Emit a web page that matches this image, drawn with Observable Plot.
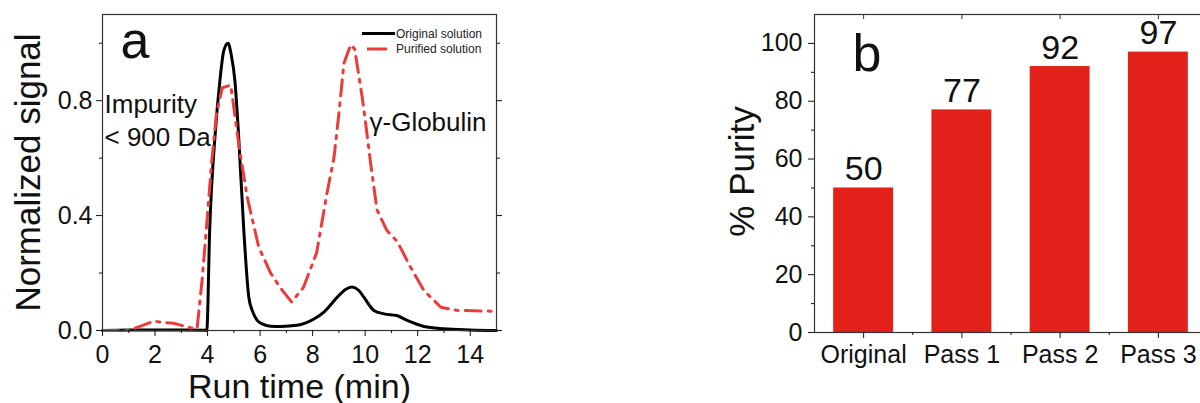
<!DOCTYPE html>
<html>
<head>
<meta charset="utf-8">
<script src="https://cdn.jsdelivr.net/npm/d3@7"></script>
<script src="https://cdn.jsdelivr.net/npm/@observablehq/plot@0.6"></script>
<style>
  html, body { margin: 0; padding: 0; background: #fff; overflow: hidden; }
  #wrap { position: relative; width: 1200px; height: 403px; overflow: hidden; }
  #wrap > svg, #wrap > figure { position: absolute; top: 0; margin: 0; }
</style>
</head>
<body>
<div id="wrap"></div>
<script>
// ---- Panel a data: run time (min) and normalized signal ----
const originalTime   = [0, 1, 2, 3, 3.9, 3.97, 4.08, 4.3, 4.47, 4.62, 4.78, 4.9, 5.04, 5.17, 5.38, 5.57, 5.72, 5.89, 6.1, 6.4, 6.8, 7.4, 8.05, 8.43, 8.94, 9.25, 9.5, 9.75, 9.95, 10.33, 10.72, 11.2, 11.6, 12.24, 13, 14, 15];
const originalSignal = [0, 0.002, 0.002, 0.002, 0.001, 0, 0.348, 0.697, 0.87, 0.975, 1.0, 0.96, 0.87, 0.697, 0.348, 0.116, 0.065, 0.035, 0.022, 0.015, 0.014, 0.018, 0.04, 0.064, 0.116, 0.143, 0.151, 0.14, 0.116, 0.07, 0.058, 0.052, 0.035, 0.014, 0.006, 0.002, 0];

const purifiedTime   = [0, 1.0, 1.95, 2.7, 3.5, 3.6, 3.79, 3.95, 4.15, 4.34, 4.56, 4.88, 4.95, 5.2, 5.51, 5.95, 6.4, 6.8, 7.2, 7.65, 8.15, 8.55, 8.81, 9.0, 9.19, 9.45, 9.6, 9.89, 10.02, 10.21, 10.45, 10.83, 11.22, 11.73, 12.24, 12.88, 13.5, 15];
const purifiedSignal = [0, 0, 0.032, 0.025, 0.006, 0.006, 0.174, 0.348, 0.58, 0.755, 0.845, 0.854, 0.81, 0.64, 0.464, 0.29, 0.2, 0.145, 0.099, 0.15, 0.27, 0.48, 0.6, 0.755, 0.93, 0.995, 0.98, 0.81, 0.72, 0.58, 0.42, 0.348, 0.31, 0.22, 0.139, 0.081, 0.07, 0.067];

const xMajorTicksA = [0, 2, 4, 6, 8, 10, 12, 14];
const xMinorTicksA = [1, 3, 5, 7, 9, 11, 13];
const yMajorTicksA = [0, 0.4, 0.8];
const yMinorTicksA = [0.2, 0.6, 1.0];
const seriesNames  = ["Original solution", "Purified solution"];

// ---- Panel b data ----
const categories = ["Original", "Pass 1", "Pass 2", "Pass 3"];
const purity     = [50, 77, 92, 97];
const yMajorTicksB = [0, 20, 40, 60, 80, 100];
const yMinorTicksB = [10, 30, 50, 70, 90];

const FONT = "'Liberation Sans', Arial, Helvetica, sans-serif";
const RED_LINE = "#ec3b3b";
const RED_BAR = "#e2211a";
const DASH = "16,7,3,7";

const original = originalTime.map((t, i) => ({t, v: originalSignal[i]}));
const purified = purifiedTime.map((t, i) => ({t, v: purifiedSignal[i]}));
const noLabel = () => "";

const plotA = Plot.plot({
  width: 520, height: 403,
  marginLeft: 102, marginRight: 24, marginTop: 14, marginBottom: 73,
  style: {fontFamily: FONT, color: "#111", background: "transparent", overflow: "visible"},
  x: {domain: [0, 15]},
  y: {domain: [0, 1.1]},
  marks: [
    Plot.line(original, {x: "t", y: "v", stroke: "#000", strokeWidth: 3, curve: "monotone-x"}),
    Plot.line(purified, {x: "t", y: "v", stroke: RED_LINE, strokeWidth: 3, strokeDasharray: DASH}),
    Plot.frame({stroke: "#333", strokeWidth: 1.2}),
    Plot.axisX({ticks: xMajorTicksA, tickSize: 6, tickPadding: 9, fontSize: 25, label: null, tickFormat: d3.format("d")}),
    Plot.axisX({ticks: xMinorTicksA, tickSize: 3, tickFormat: noLabel, label: null}),
    Plot.axisY({ticks: yMajorTicksA, tickSize: 6, tickPadding: 4, fontSize: 25, label: null, tickFormat: d3.format(".1f")}),
    Plot.axisY({ticks: yMinorTicksA, tickSize: 3, tickFormat: noLabel, label: null}),
    Plot.axisY({anchor: "right", ticks: yMajorTicksA, tickSize: 5, tickFormat: noLabel, label: null}),
    Plot.axisY({anchor: "right", ticks: yMinorTicksA, tickSize: 3, tickFormat: noLabel, label: null}),
    Plot.text(["Run time (min)"], {frameAnchor: "bottom", textAnchor: "middle", lineAnchor: "bottom", dy: 67, fontSize: 34, fill: "#111"}),
    Plot.text(["Normalized signal"], {frameAnchor: "left", textAnchor: "middle", lineAnchor: "bottom", rotate: -90, dx: -63, fontSize: 35, fill: "#111"}),
    Plot.text(["a"], {frameAnchor: "top-left", textAnchor: "start", lineAnchor: "bottom", dx: 18, dy: 43, fontSize: 52, fill: "#111"}),
    Plot.text(["Impurity"], {frameAnchor: "top-left", textAnchor: "start", lineAnchor: "bottom", dx: 2, dy: 98, fontSize: 26, fill: "#111"}),
    Plot.text(["< 900 Da"], {frameAnchor: "top-left", textAnchor: "start", lineAnchor: "bottom", dx: 2, dy: 131, fontSize: 26, fill: "#111"}),
    Plot.text(["\u03b3-Globulin"], {frameAnchor: "top-left", textAnchor: "start", lineAnchor: "bottom", dx: 267, dy: 116, fontSize: 26, fill: "#111"})
  ]
});

// legend (inside panel a)
{
  const svg = d3.select(plotA);
  const g = svg.append("g").attr("font-family", FONT).attr("font-size", 12).attr("fill", "#222")
    .attr("text-anchor", "start");
  g.append("line").attr("x1", 362).attr("x2", 395).attr("y1", 33.5).attr("y2", 33.5)
    .attr("stroke", "#000").attr("stroke-width", 3);
  g.append("text").attr("x", 396).attr("y", 37.5).attr("text-anchor", "start").text(seriesNames[0]);
  g.append("line").attr("x1", 367).attr("x2", 387).attr("y1", 49).attr("y2", 49)
    .attr("stroke", RED_LINE).attr("stroke-width", 3);
  g.append("text").attr("x", 396).attr("y", 53).attr("text-anchor", "start").text(seriesNames[1]);
}

const table = categories.map((c, i) => ({cat: c, pos: i + 1, value: purity[i]}));
const half = 0.305;

const plotB = Plot.plot({
  width: 520, height: 403,
  marginLeft: 114, marginRight: 13, marginTop: 14, marginBottom: 71,
  style: {fontFamily: FONT, color: "#111", background: "transparent", overflow: "visible"},
  x: {domain: [0.5, 4.5]},
  y: {domain: [0, 110]},
  marks: [
    Plot.rectY(table, {x1: d => d.pos - half, x2: d => d.pos + half, y1: 0, y2: "value", fill: RED_BAR}),
    Plot.text(table, {x: "pos", y: "value", text: d => String(d.value), lineAnchor: "bottom", dy: -8, fontSize: 34, fill: "#111"}),
    Plot.frame({stroke: "#333", strokeWidth: 1.2}),
    Plot.axisX({ticks: table.map(d => d.pos), tickSize: 6, tickPadding: 7, fontSize: 25, label: null, tickFormat: p => categories[p - 1]}),
    Plot.axisX({ticks: table.slice(1).map(d => d.pos - 0.5), tickSize: 3, tickFormat: noLabel, label: null}),
    Plot.tickX(table, {x: "pos", stroke: "#333", insetBottom: 313}),
    Plot.axisY({ticks: yMajorTicksB, tickSize: 6, tickPadding: 6, fontSize: 25, label: null, tickFormat: d3.format("d")}),
    Plot.axisY({ticks: yMinorTicksB, tickSize: 3, tickFormat: noLabel, label: null}),
    Plot.text(["% Purity"], {frameAnchor: "left", textAnchor: "middle", lineAnchor: "bottom", rotate: -90, dx: -61, dy: -2, fontSize: 35, fill: "#111"}),
    Plot.text(["b"], {frameAnchor: "top-left", textAnchor: "start", lineAnchor: "bottom", dx: 38, dy: 56, fontSize: 52, fill: "#111"})
  ]
});

const wrap = document.getElementById("wrap");
plotA.style.left = "0px";
plotB.style.left = "700px";
wrap.appendChild(plotA);
wrap.appendChild(plotB);
</script>
</body>
</html>
